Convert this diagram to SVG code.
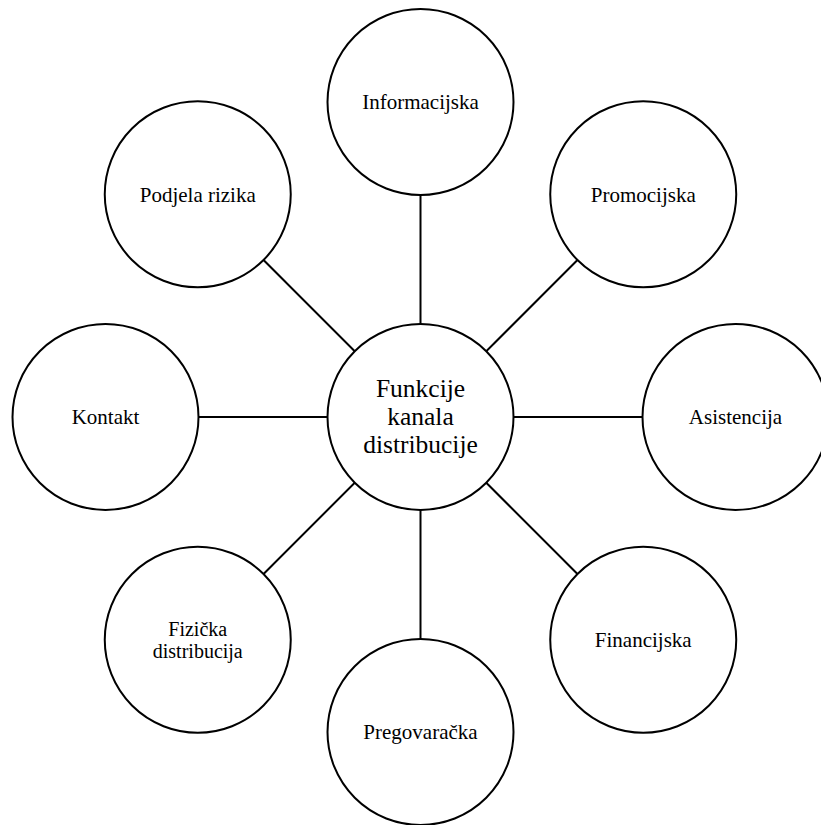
<svg xmlns="http://www.w3.org/2000/svg" width="821" height="825" viewBox="0 0 821 825">
<style>
.n{fill:#fff;stroke:#000;stroke-width:2}
.t{font-family:"Liberation Serif","Times New Roman",serif;font-size:21px;fill:#000;text-anchor:middle}
.c{font-size:25.5px}
.f{font-size:20px}
.e{stroke:#000;stroke-width:2;fill:none}
</style>
<rect width="821" height="825" fill="#fff"/>
<g id="connectors">
<line class="e" x1="420.5" y1="324" x2="420.5" y2="195"/>
<line class="e" x1="486.26" y1="351.24" x2="577.48" y2="260.02"/>
<line class="e" x1="513.5" y1="417" x2="642.5" y2="417"/>
<line class="e" x1="486.26" y1="482.76" x2="577.48" y2="573.98"/>
<line class="e" x1="420.5" y1="510" x2="420.5" y2="639"/>
<line class="e" x1="354.74" y1="482.76" x2="263.52" y2="573.98"/>
<line class="e" x1="327.5" y1="417" x2="198.5" y2="417"/>
<line class="e" x1="354.74" y1="351.24" x2="263.52" y2="260.02"/>
</g>
<g id="center">
<circle class="n" cx="420.5" cy="417" r="93"/>
<text class="t c" x="420.5" y="397">Funkcije</text>
<text class="t c" x="420.5" y="425">kanala</text>
<text class="t c" x="420.5" y="453">distribucije</text>
</g>
<g id="informacijska">
<circle class="n" cx="420.5" cy="102" r="93"/>
<text class="t" x="420.5" y="109">Informacijska</text>
</g>
<g id="promocijska">
<circle class="n" cx="643.24" cy="194.26" r="93"/>
<text class="t" x="643.24" y="201.5">Promocijska</text>
</g>
<g id="asistencija">
<circle class="n" cx="735.5" cy="417" r="93"/>
<text class="t" x="735.5" y="424.3">Asistencija</text>
</g>
<g id="financijska">
<circle class="n" cx="643.24" cy="639.74" r="93"/>
<text class="t" x="643.24" y="647">Financijska</text>
</g>
<g id="pregovaracka">
<circle class="n" cx="420.5" cy="732" r="93"/>
<text class="t" x="420.5" y="739.3">Pregovaračka</text>
</g>
<g id="fizicka">
<circle class="n" cx="197.76" cy="639.74" r="93"/>
<text class="t f" x="197.76" y="636">Fizička</text>
<text class="t f" x="197.76" y="658">distribucija</text>
</g>
<g id="kontakt">
<circle class="n" cx="105.5" cy="417" r="93"/>
<text class="t" x="105.5" y="424.3">Kontakt</text>
</g>
<g id="podjela">
<circle class="n" cx="197.76" cy="194.26" r="93"/>
<text class="t" x="197.76" y="201.5">Podjela rizika</text>
</g>
</svg>
